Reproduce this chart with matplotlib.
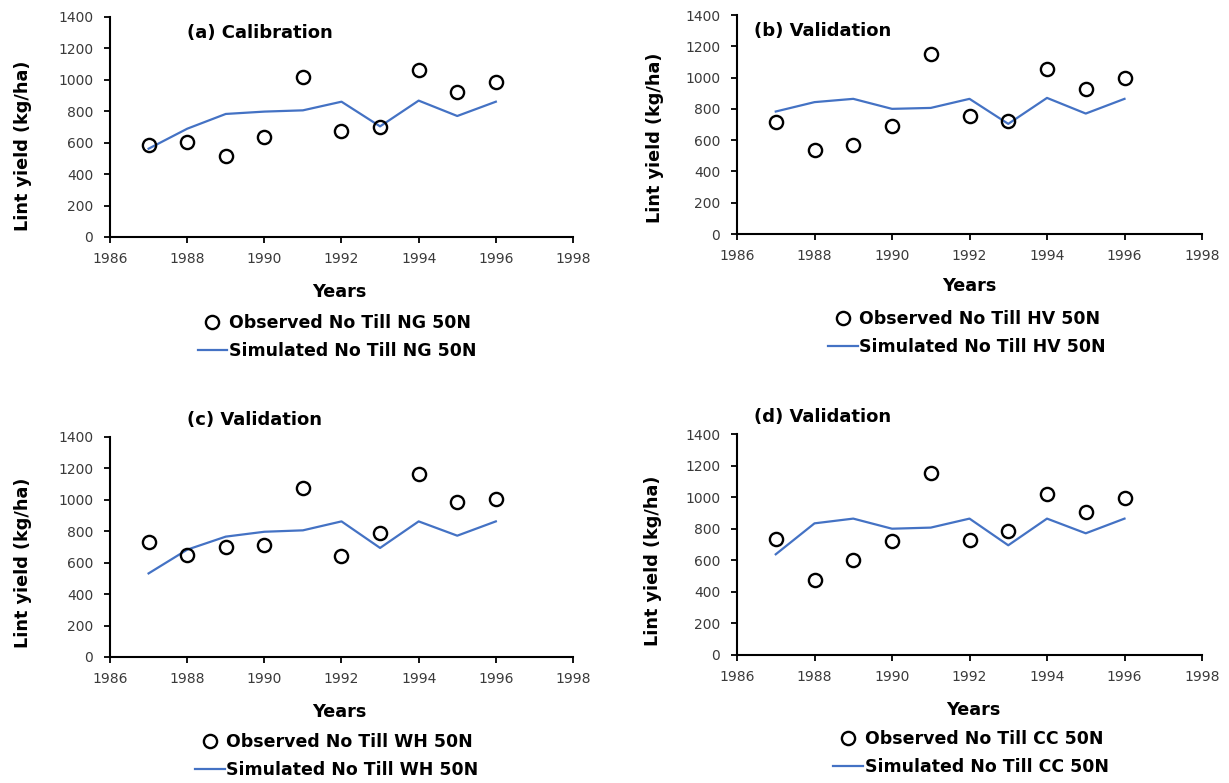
import matplotlib
matplotlib.use('Agg')
import matplotlib.pyplot as plt
from matplotlib.lines import Line2D

plt.rcParams['font.family'] = ['DejaVu Sans']

years = [1987, 1988, 1989, 1990, 1991, 1992, 1993, 1994, 1995, 1996]

# observed lint yield (kg/ha)
obs_ng = [583, 605, 513, 634, 1016, 675, 698, 1065, 921, 988]
obs_hv = [717, 540, 568, 691, 1149, 753, 725, 1055, 928, 1000]
obs_wh = [732, 649, 698, 711, 1076, 641, 789, 1167, 984, 1005]
obs_cc = [733, 473, 604, 724, 1151, 731, 788, 1022, 906, 997]

# simulated lint yield (kg/ha)
sim_ng = [562, 689, 783, 798, 806, 861, 704, 868, 770, 861]
sim_hv = [783, 843, 864, 800, 806, 864, 704, 870, 770, 864]
sim_wh = [532, 683, 766, 797, 806, 863, 694, 863, 772, 863]
sim_cc = [638, 834, 864, 800, 807, 864, 695, 864, 771, 864]

titles = ['(a) Calibration', '(b) Validation', '(c) Validation', '(d) Validation']
codes = ['NG', 'HV', 'WH', 'CC']

W, H = 1229, 783
fig = plt.figure(figsize=(W / 100, H / 100), dpi=100)

# panel layout in pixels: left, right, top(1400), bottom(0)
boxes = [(110, 573, 17, 237), (737, 1202, 15, 234),
         (110, 573, 437, 657), (737, 1202, 434, 655)]
# title (x left, y), years center (x, y), legend center, ylabel (x, y)
title_pos = [(187, 33), (754, 31), (187, 420), (754, 417)]
years_pos = [(339, 292), (969, 286), (339, 712), (973, 710)]
legend_pos = [(337, 337), (967, 333), (337, 756), (971, 753)]
ylab_pos = [(23, 146), (655, 138), (23, 563), (653, 561)]

blue = '#4472C4'

obs_all = [obs_ng, obs_hv, obs_wh, obs_cc]
sim_all = [sim_ng, sim_hv, sim_wh, sim_cc]

for i in range(4):
    l, r, t, b = boxes[i]
    ax = fig.add_axes([l / W, 1 - b / H, (r - l) / W, (b - t) / H])
    ax.plot(years, sim_all[i], color=blue, lw=1.6, zorder=2)
    ax.plot(years, obs_all[i], 'o', mfc='none', mec='black', ms=9.5, mew=1.7, zorder=3)
    ax.set_xlim(1986, 1998)
    ax.set_ylim(0, 1400)
    ax.set_xticks(range(1986, 1999, 2))
    ax.set_yticks(range(0, 1401, 200))
    for s in ['top', 'right']:
        ax.spines[s].set_visible(False)
    for s in ['left', 'bottom']:
        ax.spines[s].set_linewidth(1.5)
    ax.tick_params(direction='out', length=4.5, width=1.3, labelsize=10,
                   colors='black', labelcolor='#3a3a3a')
    ax.tick_params(axis='y', pad=7.5)
    ax.tick_params(axis='x', pad=6)
    ax.patch.set_alpha(0)

    fig.text(title_pos[i][0] / W, 1 - title_pos[i][1] / H, titles[i],
             fontsize=13, fontweight='bold', ha='left', va='center')
    fig.text(years_pos[i][0] / W, 1 - years_pos[i][1] / H, 'Years',
             fontsize=12.7, fontweight='bold', ha='center', va='center')
    fig.text(ylab_pos[i][0] / W, 1 - ylab_pos[i][1] / H, 'Lint yield (kg/ha)',
             fontsize=12.7, fontweight='bold', ha='center', va='center', rotation=90)

    handles = [Line2D([], [], ls='none', marker='o', mfc='none', mec='black', ms=9.5, mew=1.7),
               Line2D([], [], color=blue, lw=1.6)]
    labels = ['Observed No Till %s 50N' % codes[i], 'Simulated No Till %s 50N' % codes[i]]
    fig.legend(handles, labels, loc='center',
               bbox_to_anchor=(legend_pos[i][0] / W, 1 - legend_pos[i][1] / H),
               frameon=False, prop={'size': 12.5, 'weight': 'bold'},
               handlelength=1.7, handletextpad=0.1, labelspacing=0.62, borderpad=0)

fig.savefig('out.png', dpi=100, facecolor='white')
